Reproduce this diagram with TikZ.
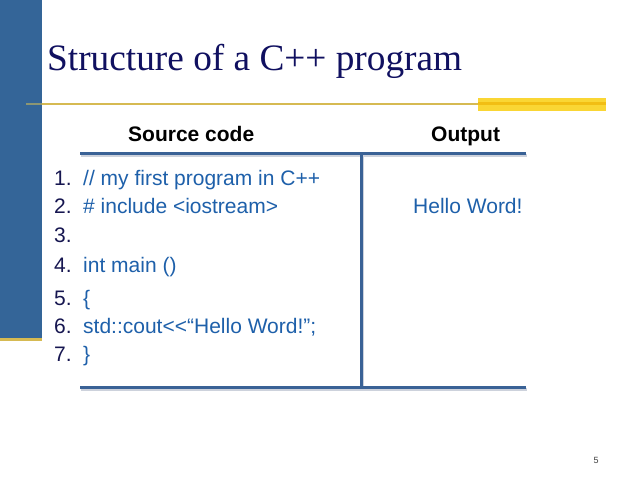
\documentclass[tikz,border=0pt]{standalone}
\usepackage{fontspec}
\setmainfont{Liberation Sans}
\newfontfamily\titlefont{Liberation Serif}
\definecolor{bluebar}{RGB}{52,101,152}
\definecolor{goldline}{RGB}{214,186,82}
\definecolor{goldmix}{RGB}{140,150,115}
\definecolor{yellowbar}{RGB}{250,214,52}
\definecolor{yellowstripe}{RGB}{242,190,20}
\definecolor{titlecol}{RGB}{16,16,96}
\definecolor{numcol}{RGB}{22,22,80}
\definecolor{codecol}{RGB}{30,96,170}
\definecolor{tablecol}{RGB}{58,98,150}
\definecolor{shadowcol}{RGB}{205,210,220}
\tikzset{
  txt/.style={inner sep=0pt, anchor=base west, font=\fontsize{21}{25}\selectfont},
  num/.style={txt, text=numcol},
  code/.style={txt, text=codecol},
  head/.style={txt, font=\fontsize{21}{25}\selectfont\bfseries, text=black},
  tline/.style={draw=tablecol, line width=3pt},
  tshadow/.style={draw=shadowcol, line width=3pt},
}
\begin{document}
\begin{tikzpicture}[x=1pt,y=-1pt]
\useasboundingbox (0,0) rectangle (638,478);
\fill[white] (0,0) rectangle (638,478);
% left blue bar and gold rule
\fill[bluebar] (0,0) rectangle (42,338);
\fill[goldline] (0,338) rectangle (42,341);
% title rule
\fill[goldmix] (26,103) rectangle (42,105);
\fill[goldline] (42,103) rectangle (480,105);
\fill[yellowbar] (478,98) rectangle (606,111);
\fill[yellowstripe] (478,102.5) rectangle (606,105.5);
% title
\node[inner sep=0pt, anchor=base west, font=\titlefont\fontsize{37.3}{40}\selectfont, text=titlecol] (title) at (47,71) {Structure of a C++ program};
% table lines
\coordinate (hl) at (80,154);
\coordinate (hr) at (526,154);
\coordinate (bl) at (80,388);
\coordinate (br) at (526,388);
\coordinate (vt) at (361,154);
\coordinate (vb) at (361,388);
\draw[tshadow] ([shift={(1,1.5)}]hl) -- ([shift={(1,1.5)}]hr);
\draw[tshadow] ([shift={(1,1.5)}]bl) -- ([shift={(1,1.5)}]br);
\draw[tshadow] ([shift={(1.5,1)}]vt) -- ([shift={(1.5,1)}]vb);
\draw[tline] (hl) -- (hr);
\draw[tline] (bl) -- (br);
\draw[tline] (vt) -- (vb);
% headers
\node[head] (src) at (128,142) {Source code};
\node[head] (out) at (431,142) {Output};
% numbers
\node[num] (n1) at (54,186) {1.};
\node[num] (n2) at (54,214) {2.};
\node[num] (n3) at (54,243) {3.};
\node[num] (n4) at (54,273) {4.};
\node[num] (n5) at (54,306) {5.};
\node[num] (n6) at (54,334) {6.};
\node[num] (n7) at (54,362) {7.};
% code
\node[code] (c1) at (83,186) {// my first program in C++};
\node[code] (c2) at (83,214) {\# include <iostream>};
\node[code] (c4) at (83,273) {int main ()};
\node[code] (c5) at (83,306) {\{};
\node[code] (c6) at (83,334) {std::cout<{}<“Hello Word!”;};
\node[code] (c7) at (83,362) {\}};
% output
\node[code] (hello) at (413,214) {Hello Word!};
% page number
\node[inner sep=0pt, anchor=base, font=\fontsize{9}{10}\selectfont, text=black!75] (page) at (596,464) {5};
\end{tikzpicture}
\end{document}
